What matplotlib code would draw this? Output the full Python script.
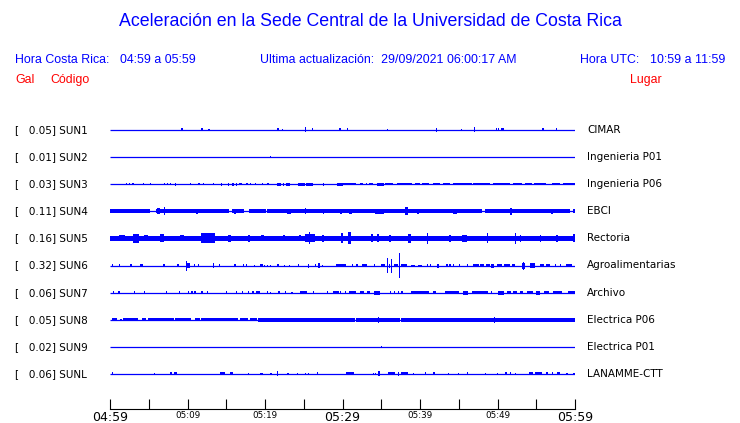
import matplotlib
matplotlib.use('Agg')
from matplotlib import pyplot as plt
from matplotlib import transforms

W, H = 740, 423

codes = ['SUN1', 'SUN2', 'SUN3', 'SUN4', 'SUN5', 'SUN6', 'SUN7', 'SUN8', 'SUN9', 'SUNL']
peaks = [0.05, 0.01, 0.03, 0.11, 0.16, 0.32, 0.06, 0.05, 0.02, 0.06]
places = ['CIMAR', 'Ingenieria P01', 'Ingenieria P06', 'EBCI', 'Rectoria',
          'Agroalimentarias', 'Archivo', 'Electrica P06', 'Electrica P01', 'LANAMME-CTT']

tick_minutes = list(range(0, 61, 5))
tick_labels = ['04:59', '', '05:09', '', '05:19', '', '05:29', '', '05:39', '', '05:49', '', '05:59']
big_labels = ['04:59', '05:29', '05:59']

# bursts: (start minute, end minute, half amplitude in px)
sun1 = [(9.1, 9.4, 1.5), (11.8, 11.8, 1.5), (12.7, 12.7, 0.8), (21.6, 21.6, 1.5),
        (22.2, 22.2, 1.0), (25.2, 25.3, 2.5), (26.1, 26.1, 1.5), (29.6, 29.6, 1.5),
        (30.6, 30.6, 1.5), (35.7, 35.7, 1.2), (42.1, 42.2, 1.8), (45.3, 45.3, 0.8),
        (47.0, 47.0, 2.5), (49.8, 49.8, 1.5), (50.1, 50.1, 1.5), (50.5, 50.9, 1.5),
        (55.8, 55.9, 1.5), (57.5, 57.5, 1.5)]
sun2 = [(20.6, 20.6, 1.0)]
sun3 = [(2.0, 2.0, 1.2), (2.4, 2.4, 1.2), (2.9, 2.9, 1.2), (4.3, 4.3, 1.2), (5.2, 5.2, 1.0),
        (7.0, 7.0, 1.2), (7.3, 7.3, 1.2), (7.7, 7.7, 1.2), (8.4, 8.4, 1.5), (10.3, 10.3, 1.2),
        (11.4, 11.4, 1.0), (12.0, 12.0, 0.8), (13.3, 13.3, 0.8), (14.3, 14.5, 1.5),
        (15.2, 15.4, 1.5), (15.7, 16.0, 1.5), (16.3, 16.4, 1.5), (16.7, 17.0, 1.3),
        (17.6, 17.6, 1.0), (18.0, 18.0, 1.0), (18.7, 18.7, 1.0), (19.6, 19.6, 1.2),
        (20.2, 20.5, 1.2), (21.5, 22.0, 1.5), (22.3, 22.4, 1.5), (22.7, 23.2, 1.5),
        (24.3, 25.1, 1.5), (25.3, 26.2, 1.5), (27.5, 27.6, 1.5), (29.3, 30.1, 1.5),
        (30.1, 31.8, 1.3), (32.2, 32.6, 1.3), (33.0, 33.0, 1.3), (33.4, 33.9, 1.3),
        (34.4, 35.3, 1.5), (35.5, 36.5, 1.3), (37.0, 39.0, 1.3), (39.4, 40.0, 1.3),
        (40.3, 41.2, 1.3), (41.7, 42.6, 1.3), (43.0, 43.9, 1.3), (44.3, 46.7, 1.3),
        (46.9, 49.0, 1.3), (49.4, 51.6, 1.3), (52.0, 53.1, 1.3), (53.5, 54.4, 1.3),
        (54.7, 56.2, 1.3), (57.0, 58.1, 1.3), (58.5, 60.0, 1.3)]
sun4 = [(0.0, 5.1, 1.8), (5.9, 15.4, 1.8), (15.8, 17.3, 1.8), (17.9, 20.1, 1.8),
        (20.3, 48.0, 1.8), (48.4, 59.4, 1.8), (59.7, 60.0, 1.8),
        (6.0, 6.5, 3.0), (7.0, 7.0, 4.0), (11.1, 11.4, 2.5), (16.0, 16.3, 2.5),
        (22.9, 23.3, 2.5), (25.2, 25.2, 3.0), (27.5, 27.5, 2.5), (29.7, 29.9, 2.5),
        (30.9, 31.2, 2.5), (34.2, 35.3, 2.5), (38.0, 38.5, 4.0), (39.6, 39.9, 2.5),
        (44.3, 44.8, 2.5), (51.6, 51.9, 3.5), (56.9, 57.1, 2.5)]
sun5 = [(0.0, 60.0, 2.5),
        (0.5, 0.7, 2.5), (1.2, 1.9, 3.0), (3.0, 3.7, 4.5), (4.4, 4.9, 3.0), (6.5, 7.0, 4.0),
        (9.0, 9.6, 3.0), (11.8, 13.5, 5.0), (15.2, 15.6, 3.5), (17.8, 18.1, 3.5),
        (19.5, 19.9, 3.0), (22.3, 22.6, 3.0), (24.4, 24.7, 3.0), (25.2, 26.4, 4.0),
        (25.7, 25.7, 6.0), (27.4, 27.6, 3.5), (29.8, 30.0, 5.0), (30.7, 31.1, 6.0),
        (33.7, 33.9, 4.0), (34.5, 34.7, 4.0), (36.0, 36.2, 3.5), (38.5, 38.9, 4.5),
        (40.9, 40.9, 5.5), (43.8, 44.0, 3.5), (45.4, 46.0, 3.5), (48.6, 48.6, 5.0),
        (52.3, 52.3, 5.5), (52.9, 53.0, 3.5), (55.5, 55.6, 3.5), (57.6, 57.7, 3.5),
        (59.7, 60.0, 4.0)]
sun6 = [(0.2, 0.2, 1.5), (1.1, 1.1, 1.2), (2.6, 2.9, 1.5), (3.9, 4.2, 1.5), (6.9, 7.0, 1.5),
        (8.6, 8.9, 1.5), (9.8, 9.8, 5.0), (9.9, 10.3, 2.5), (10.8, 10.8, 1.2),
        (11.3, 11.3, 1.2), (13.3, 13.4, 2.5), (14.0, 14.0, 1.5), (16.0, 16.3, 1.8),
        (17.1, 17.1, 1.2), (17.5, 17.5, 1.2), (18.6, 18.6, 1.0), (19.3, 19.7, 1.5),
        (19.9, 19.9, 1.0), (20.3, 20.3, 1.0), (20.6, 20.6, 1.0), (21.6, 21.6, 1.5),
        (22.4, 22.4, 1.0), (23.1, 23.1, 1.0), (24.2, 24.4, 1.5), (25.5, 25.7, 2.0),
        (26.4, 26.4, 1.2), (26.9, 26.9, 2.5), (27.3, 27.3, 1.0), (29.2, 30.1, 1.8),
        (30.1, 30.5, 1.2), (31.2, 31.2, 1.2), (31.8, 31.8, 1.2), (32.5, 33.1, 1.5),
        (34.1, 34.1, 1.5), (35.0, 35.5, 1.5), (35.7, 35.7, 7.5), (36.0, 36.0, 2.0),
        (36.3, 36.3, 7.0), (36.7, 37.2, 1.5), (37.3, 37.3, 12.5), (37.6, 38.3, 1.5),
        (38.9, 39.4, 1.0), (39.7, 40.2, 1.0), (40.9, 40.9, 1.2), (41.3, 41.3, 1.2),
        (42.2, 42.5, 2.0), (43.4, 43.4, 1.2), (43.8, 43.8, 1.2), (44.3, 44.3, 1.2),
        (45.0, 45.0, 1.2), (46.0, 46.0, 1.2), (46.9, 47.6, 1.5), (47.8, 48.3, 1.5),
        (48.5, 49.0, 1.5), (49.2, 49.5, 2.0), (49.9, 50.6, 1.5), (50.9, 51.6, 1.5),
        (51.9, 52.3, 1.5), (53.1, 53.5, 3.0), (53.3, 53.3, 4.0), (54.2, 54.8, 2.5),
        (55.5, 56.0, 1.5), (56.3, 56.8, 1.5), (57.4, 57.4, 1.2), (58.1, 58.1, 1.2),
        (58.9, 59.6, 1.5)]
sun7 = [(0.4, 0.4, 1.5), (1.0, 1.3, 1.5), (3.1, 3.1, 1.2), (4.4, 4.4, 1.2), (7.2, 7.4, 1.5),
        (8.9, 8.9, 1.2), (10.1, 10.2, 1.5), (10.5, 10.6, 1.2), (10.9, 11.0, 1.5),
        (11.8, 11.8, 1.2), (12.5, 12.7, 1.5), (15.0, 15.1, 1.5), (16.3, 16.3, 1.2),
        (17.0, 17.2, 1.5), (17.8, 17.8, 1.2), (18.3, 18.6, 1.5), (18.9, 19.3, 1.5),
        (20.2, 20.2, 1.2), (20.6, 20.6, 1.0), (21.7, 22.0, 1.5), (22.6, 22.6, 1.5),
        (23.4, 23.4, 1.0), (24.5, 25.4, 1.5), (26.2, 26.3, 1.5), (28.0, 28.0, 1.2),
        (28.8, 29.5, 1.5), (29.7, 29.7, 1.2), (30.3, 30.3, 1.2), (30.8, 31.8, 1.5),
        (32.3, 32.8, 1.2), (33.1, 33.5, 1.2), (34.0, 34.8, 2.0), (36.1, 36.3, 1.2),
        (36.6, 36.8, 1.2), (37.1, 37.3, 1.2), (37.6, 37.8, 1.2), (38.9, 41.1, 1.5),
        (41.7, 42.1, 1.5), (43.2, 45.0, 1.5), (45.6, 46.2, 2.0), (46.7, 48.8, 1.5),
        (49.2, 49.2, 1.2), (50.1, 50.8, 2.0), (51.2, 51.7, 1.2), (52.0, 52.5, 1.2),
        (52.9, 53.3, 1.5), (53.8, 54.6, 1.5), (55.0, 55.5, 2.0), (56.0, 56.6, 1.5),
        (57.2, 58.3, 1.5), (59.1, 60.0, 1.5)]
sun8 = [(0.2, 0.9, 1.7), (1.3, 1.5, 1.2), (1.7, 3.6, 1.5), (4.1, 4.7, 1.7), (4.9, 8.2, 1.7),
        (8.4, 10.5, 1.7), (11.0, 11.6, 1.7), (11.7, 16.5, 1.7), (16.8, 17.8, 1.7),
        (18.0, 19.0, 1.5), (19.1, 31.6, 1.8), (31.9, 37.4, 1.8), (37.7, 60.0, 1.8),
        (31.7, 31.7, 2.0), (34.6, 34.6, 3.0), (36.1, 36.1, 2.0), (37.5, 37.5, 2.0),
        (49.5, 49.5, 3.0)]
sun9 = [(35.0, 35.0, 0.8)]
sunl = [(0.3, 0.3, 1.5), (5.7, 5.7, 1.0), (7.7, 8.0, 1.5), (8.3, 8.6, 1.5), (14.2, 14.8, 1.5),
        (15.5, 15.9, 1.5), (17.8, 17.8, 1.2), (19.4, 19.4, 1.0), (19.6, 19.6, 1.0),
        (20.7, 20.7, 1.0), (21.5, 21.5, 2.5), (22.9, 22.9, 1.0), (24.1, 24.1, 1.0),
        (25.1, 25.1, 1.0), (25.5, 25.5, 1.0), (26.7, 26.8, 1.5), (30.5, 31.5, 1.5),
        (33.9, 33.9, 1.0), (34.2, 34.2, 1.0), (34.6, 34.9, 2.5), (35.9, 36.8, 1.5),
        (37.1, 37.1, 2.0), (37.6, 38.5, 1.5), (39.1, 39.1, 1.2), (40.6, 40.7, 1.5),
        (41.7, 41.9, 1.5), (43.6, 43.6, 1.2), (44.9, 44.9, 1.0), (46.0, 46.2, 1.5),
        (48.4, 48.4, 1.0), (49.9, 49.9, 1.2), (51.0, 51.2, 1.5), (51.6, 51.8, 1.5),
        (52.2, 52.3, 1.2), (54.0, 54.6, 1.5), (54.9, 55.7, 1.5), (56.3, 56.5, 1.5),
        (57.0, 57.2, 1.5), (57.7, 58.1, 1.5), (58.9, 58.9, 1.0), (59.8, 59.8, 1.2)]
traces = [sun1, sun2, sun3, sun4, sun5, sun6, sun7, sun8, sun9, sunl]

BLUE = '#0000ff'
ROW_PX = 27.1
ROW0_PX = 130

fig = plt.figure(figsize=(W / 100, H / 100), dpi=100)

# axes spans the trace area, one data unit per station row
top_px, bot_px = 112, 409
ax = fig.add_axes([110 / W, 1 - bot_px / H, 465 / W, (bot_px - top_px) / H])
ax.set_xlim(0, 60)
ax.set_ylim((bot_px - ROW0_PX) / ROW_PX, (top_px - ROW0_PX) / ROW_PX)

for i, bursts in enumerate(traces):
    ax.hlines(i, 0, 60, color=BLUE, lw=0.9)
    for t0, t1, amp in bursts:
        a = amp / ROW_PX
        ax.bar(t0, 2 * a, width=max(t1 - t0, 0.15), bottom=i - a, align='edge',
               color=BLUE, linewidth=0)

for s in ['left', 'top', 'right']:
    ax.spines[s].set_visible(False)
ax.spines['bottom'].set_linewidth(0.8)
ax.set_yticks([])
ax.set_xticks(tick_minutes)
ax.set_xticklabels(tick_labels, family='DejaVu Sans')
ax.tick_params(axis='x', direction='in', length=7, width=0.8, pad=1.5)
for lbl in ax.get_xticklabels():
    lbl.set_fontsize(9 if lbl.get_text() in big_labels else 6.3)

# station labels on the left, places on the right
tr = transforms.blended_transform_factory(fig.transFigure, ax.transData)
for i in range(len(codes)):
    ax.text(15 / W, i, '[%7.2f] %s' % (peaks[i], codes[i]), transform=tr,
            fontsize=7.5, family='DejaVu Sans', va='center', ha='left', clip_on=False)
    ax.text(587 / W, i, places[i], transform=tr,
            fontsize=7.5, family='DejaVu Sans', va='center', ha='left', clip_on=False)

sans = 'Liberation Sans'


def ftext(x, y, s, **kw):
    fig.text(x / W, 1 - y / H, s, family=sans, va='center', ha='left', **kw)


fig.text(0.5, 1 - 22 / H, 'Aceleración en la Sede Central de la Universidad de Costa Rica',
         family=sans, fontsize=12.8, color=BLUE, ha='center', va='center')
ftext(15, 60, 'Hora Costa Rica:', fontsize=8.9, color=BLUE)
ftext(120, 60, '04:59 a 05:59', fontsize=8.9, color=BLUE)
ftext(260, 60, 'Ultima actualización:  29/09/2021 06:00:17 AM', fontsize=8.9, color=BLUE)
ftext(580, 60, 'Hora UTC:', fontsize=8.9, color=BLUE)
ftext(650, 60, '10:59 a 11:59', fontsize=8.9, color=BLUE)
ftext(15, 80, 'Gal', fontsize=8.9, color='red')
ftext(50, 80, 'Código', fontsize=8.9, color='red')
ftext(630, 80, 'Lugar', fontsize=8.9, color='red')

fig.savefig('out.png', dpi=100)
